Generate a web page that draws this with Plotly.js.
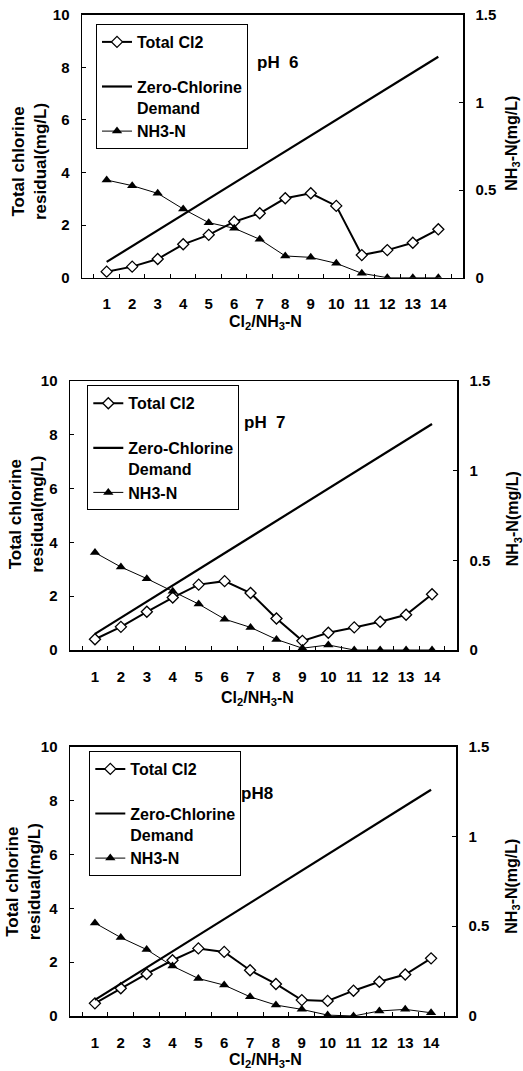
<!DOCTYPE html>
<html>
<head>
<meta charset="utf-8">
<script src="https://cdn.plot.ly/plotly-3.0.1.min.js"></script>
<style>html,body{margin:0;padding:0;background:#fff;}#chart{width:523px;height:1071px;}</style>
</head>
<body>
<div id="chart"></div>
<script>
// ---- data ----
const ratio = ['1','2','3','4','5','6','7','8','9','10','11','12','13','14'];
const zeroDemand = [0.6,1.2,1.8,2.4,3.0,3.6,4.2,4.8,5.4,6.0,6.6,7.2,7.8,8.4];

const totalCl2_pH6 = [0.23,0.42,0.71,1.27,1.63,2.13,2.45,3.02,3.21,2.73,0.86,1.05,1.33,1.84];
const nh3_pH6      = [0.557,0.525,0.481,0.392,0.314,0.282,0.219,0.124,0.116,0.082,0.025,0,0,0];

const totalCl2_pH7 = [0.40,0.86,1.42,1.95,2.43,2.56,2.12,1.17,0.34,0.64,0.84,1.05,1.31,2.07];
const nh3_pH7      = [0.543,0.463,0.398,0.328,0.256,0.172,0.126,0.059,0.010,0.028,0,0,0,0];

const totalCl2_pH8 = [0.47,1.03,1.56,2.07,2.51,2.38,1.70,1.19,0.59,0.56,0.94,1.27,1.54,2.14];
const nh3_pH8      = [0.518,0.437,0.370,0.278,0.209,0.172,0.107,0.061,0.037,0.005,0,0.028,0.037,0.018];

const panelLabels = ['pH\u00a0\u00a06', 'pH\u00a0\u00a07', 'pH8'];
const leftTicks = [0,2,4,6,8,10];
const rightTicks = [0,0.5,1,1.5];
const rightTickText = ['0','0.5','1','1.5'];

// ---- layout geometry (pixels) ----
const W = 523, H = 1071;
const panels = [
  {cl: totalCl2_pH6, nh: nh3_pH6, L: 82, R: 463, T: 14.7, B: 277.7, leg: [96, 24],
   ytitle: [29, 162], rtitle: [512.7, 143], xtitle: [265, 322], ph: [278, 62]},
  {cl: totalCl2_pH7, nh: nh3_pH7, L: 70, R: 457, T: 381, B: 650, leg: [87.3, 385.3],
   ytitle: [25.8, 514], rtitle: [513.3, 519], xtitle: [257, 698], ph: [265, 423]},
  {cl: totalCl2_pH8, nh: nh3_pH8, L: 70, R: 456, T: 746.7, B: 1016, leg: [89.3, 751],
   ytitle: [23.3, 882], rtitle: [511.7, 886], xtitle: [265, 1060], ph: [257, 793]}
];
const px = v => v / W;
const py = v => 1 - v / H;

const FONT = 'Liberation Sans, Arial, Helvetica, sans-serif';
const data = [];
const layout = {
  width: W, height: H,
  margin: {l: 0, r: 0, t: 0, b: 0},
  paper_bgcolor: '#fff', plot_bgcolor: '#fff',
  font: {family: FONT, size: 15, color: '#000', weight: 'bold'},
  showlegend: true,
  annotations: []
};

panels.forEach((p, i) => {
  const n = i + 1;
  const xa = n === 1 ? 'x' : 'x' + n;
  const yl = 'y' + (2 * i + 1 === 1 ? '' : (2 * i + 1));
  const yr = 'y' + (2 * i + 2);
  const legName = n === 1 ? 'legend' : 'legend' + n;

  data.push({
    x: ratio, y: p.cl, xaxis: xa, yaxis: yl, type: 'scatter', mode: 'lines+markers',
    name: 'Total Cl2<br> ', legend: legName,
    line: {color: '#000', width: 2},
    marker: {symbol: 'diamond', size: 8.5, color: '#fff', line: {color: '#000', width: 1.3}}
  });
  data.push({
    x: ratio, y: zeroDemand, xaxis: xa, yaxis: yl, type: 'scatter', mode: 'lines',
    name: 'Zero-Chlorine<br>Demand', legend: legName,
    line: {color: '#000', width: 2.2}
  });
  data.push({
    x: ratio, y: p.nh, xaxis: xa, yaxis: yr, type: 'scatter', mode: 'lines+markers',
    name: 'NH3-N', legend: legName,
    line: {color: '#000', width: 1},
    marker: {symbol: 'triangle-up', size: 9, color: '#000'}
  });

  const xKey = n === 1 ? 'xaxis' : 'xaxis' + n;
  const ylKey = 'yaxis' + (2 * i + 1 === 1 ? '' : (2 * i + 1));
  const yrKey = 'yaxis' + (2 * i + 2);
  const yDom = [py(p.B), py(p.T)];

  layout[xKey] = {
    domain: [px(p.L), px(p.R)], anchor: yl, type: 'category',
    showline: true, linecolor: '#000', linewidth: 1.5, mirror: true,
    ticks: 'inside', ticklen: 4, tickcolor: '#000', tickson: 'boundaries',
    tickangle: 0,
    showgrid: false, zeroline: false, fixedrange: true,
    tickfont: {family: FONT, size: 15, color: '#000', weight: 'bold'},
    ticklabelstandoff: 12
  };
  layout[ylKey] = {
    domain: yDom, anchor: xa, range: [0, 10],
    tickvals: leftTicks, ticktext: leftTicks.map(String),
    showline: true, linecolor: '#000', linewidth: 1.5,
    ticks: 'inside', ticklen: 4, tickcolor: '#000',
    showgrid: false, zeroline: false, fixedrange: true,
    tickfont: {family: FONT, size: 15, color: '#000', weight: 'bold'},
    ticklabelstandoff: 8
  };
  layout[yrKey] = {
    domain: yDom, anchor: xa, overlaying: yl, side: 'right', range: [0, 1.5],
    tickvals: rightTicks, ticktext: rightTickText,
    showline: true, linecolor: '#000', linewidth: 1.5,
    ticks: 'inside', ticklen: 4, tickcolor: '#000',
    showgrid: false, zeroline: false, fixedrange: true,
    tickfont: {family: FONT, size: 15, color: '#000', weight: 'bold'},
    ticklabelstandoff: 8
  };
  layout[legName] = {
    x: px(p.leg[0]), y: py(p.leg[1]), xanchor: 'left', yanchor: 'top',
    bgcolor: '#fff', bordercolor: '#000', borderwidth: 1,
    font: {family: FONT, size: 16, color: '#000', weight: 'bold'},
    valign: 'top', tracegroupgap: 0
  };

  const ann = (text, xy, size, angle) => ({
    text: text, x: px(xy[0]), y: py(xy[1]), xref: 'paper', yref: 'paper',
    xanchor: 'center', yanchor: 'middle', showarrow: false, textangle: angle || 0,
    font: {family: FONT, size: size, color: '#000', weight: 'bold'}
  });
  layout.annotations.push(ann('Total chlorine<br>residual(mg/L)', p.ytitle, 17, -90));
  layout.annotations.push(ann('NH<sub>3</sub>-N(mg/L)', p.rtitle, 16, -90));
  layout.annotations.push(ann('Cl<sub>2</sub>/NH<sub>3</sub>-N', p.xtitle, 16, 0));
  layout.annotations.push(ann(panelLabels[i], p.ph, 17, 0));
});

Plotly.newPlot('chart', data, layout, {staticPlot: true, displayModeBar: false});
</script>
</body>
</html>
